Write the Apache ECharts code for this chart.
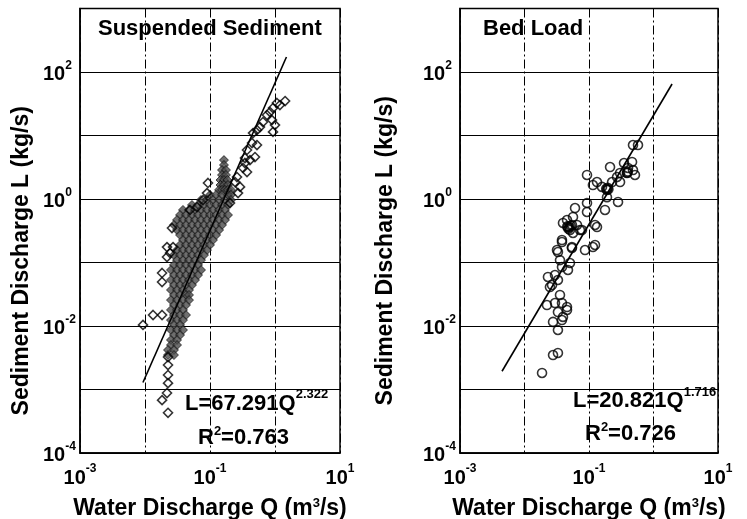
<!DOCTYPE html>
<html>
<head>
<meta charset="utf-8">
<script src="https://cdn.jsdelivr.net/npm/echarts@6/dist/echarts.min.js"></script>
<style>
html, body { margin: 0; padding: 0; background: #fff; }
#main { width: 747px; height: 519px; }
</style>
</head>
<body>
<div id="main"></div>
<script>
var FONT = '"Liberation Sans", Arial, sans-serif';

// tick labels (powers of ten that get a label)
var xTickExps = [-3, -1, 1];
var yTickExps = [-4, -2, 0, 2];

// Suspended sediment: scattered open diamonds [Q, L]
var suspendedPoints = [
  [1.43, 34.9], [1.19, 30.2], [1.07, 32.5], [0.931, 27.1], [0.838, 23.4], [0.753, 21.0],
  [1.0, 14.6], [0.899, 17.5], [0.653, 16.3], [0.587, 13.6], [0.931, 11.4], [0.528, 12.2],
  [0.459, 10.9], [0.443, 7.62], [0.528, 7.08], [0.371, 5.92], [0.492, 4.58], [0.345, 4.42],
  [0.412, 4.1], [0.345, 3.69], [0.371, 2.66], [0.322, 3.08], [0.260, 2.22], [0.290, 1.55],
  [0.243, 1.85], [0.270, 1.24], [0.203, 0.865],
  [0.0931, 1.79], [0.0899, 1.24], [0.0780, 0.964], [0.0631, 0.748], [0.0492, 0.672],
  [0.0260, 0.349], [0.0218, 0.175], [0.0270, 0.175], [0.0243, 0.141], [0.0218, 0.122],
  [0.0183, 0.0684], [0.0183, 0.0493], [0.0133, 0.0149], [0.0183, 0.0149], [0.00931, 0.0104],
  [0.0226, 0.00325], [0.0226, 0.00243], [0.0226, 0.00169], [0.0226, 0.00126],
  [0.0218, 0.00088], [0.0183, 0.00068], [0.0226, 0.00043]
];

// Suspended sediment: dense cloud, one L level per row with the Q values read along it
var cloudL = [
  4.10, 3.43, 2.86, 2.39, 1.99, 1.66, 1.39, 1.16, 0.964, 0.805, 0.672, 0.560, 0.467, 0.390,
  0.325, 0.271, 0.226, 0.189, 0.157, 0.131, 0.109, 0.0914, 0.0762, 0.0635, 0.0530, 0.0442,
  0.0369, 0.0308, 0.0256, 0.0214, 0.0179, 0.0149, 0.0124, 0.0104, 0.00865, 0.00721,
  0.00602, 0.00502, 0.00419, 0.00349
];
var cloudQ = [
  [0.164],
  [0.164],
  [0.153, 0.176],
  [0.153, 0.176],
  [0.145, 0.164, 0.185],
  [0.145, 0.164, 0.189],
  [0.138, 0.153, 0.170, 0.189, 0.210],
  [0.100, 0.124, 0.153, 0.189, 0.210],
  [0.0727, 0.0899, 0.111, 0.138, 0.170, 0.210],
  [0.0528, 0.0654, 0.0808, 0.100, 0.124, 0.153, 0.189],
  [0.0384, 0.0475, 0.0588, 0.0727, 0.0899, 0.111, 0.138, 0.170],
  [0.0346, 0.0427, 0.0528, 0.0654, 0.0808, 0.100, 0.124, 0.153, 0.189],
  [0.0311, 0.0384, 0.0475, 0.0588, 0.0727, 0.0899, 0.111, 0.138, 0.170],
  [0.0279, 0.0346, 0.0427, 0.0528, 0.0654, 0.0808, 0.100, 0.124, 0.153],
  [0.0311, 0.0384, 0.0475, 0.0588, 0.0727, 0.0899, 0.111, 0.138],
  [0.0346, 0.0427, 0.0528, 0.0654, 0.0808, 0.100, 0.124],
  [0.0384, 0.0475, 0.0588, 0.0727, 0.0899, 0.111],
  [0.0346, 0.0427, 0.0528, 0.0654, 0.0808, 0.100],
  [0.0311, 0.0384, 0.0475, 0.0588, 0.0727, 0.0899],
  [0.0279, 0.0346, 0.0427, 0.0528, 0.0654, 0.0808],
  [0.0311, 0.0384, 0.0475, 0.0588, 0.0727],
  [0.0279, 0.0346, 0.0427, 0.0528, 0.0654],
  [0.0251, 0.0311, 0.0384, 0.0475, 0.0588, 0.0727],
  [0.0279, 0.0346, 0.0427, 0.0528, 0.0654],
  [0.0251, 0.0311, 0.0384, 0.0475, 0.0588],
  [0.0279, 0.0346, 0.0427, 0.0528],
  [0.0251, 0.0311, 0.0384, 0.0475],
  [0.0279, 0.0346, 0.0427, 0.0475],
  [0.0251, 0.0311, 0.0384, 0.0475],
  [0.0279, 0.0346, 0.0427],
  [0.0251, 0.0311, 0.0384],
  [0.0279, 0.0346, 0.0427],
  [0.0251, 0.0311, 0.0384],
  [0.0279, 0.0346],
  [0.0251, 0.0311, 0.0384],
  [0.0279, 0.0346],
  [0.0251, 0.0311],
  [0.0251, 0.0311],
  [0.0226, 0.0279],
  [0.0226, 0.0279]
];

// fitted line L=67.291Q^2.322, ends as drawn
var suspendedFit = [[0.0093, 0.00129], [1.5, 172]];

// Bed load: open circles [Q, L]
var bedPoints = [
  [0.575, 7.08], [0.481, 7.08], [0.465, 3.83], [0.349, 3.69], [0.481, 2.86], [0.388, 2.57],
  [0.516, 2.39], [0.303, 2.57], [0.403, 3.08], [0.212, 3.19], [0.272, 2.22], [0.303, 1.85],
  [0.228, 1.85], [0.0931, 2.39], [0.133, 1.85], [0.115, 1.66], [0.159, 1.55], [0.190, 1.39],
  [0.190, 1.07], [0.282, 0.897], [0.0931, 0.865], [0.0607, 0.721], [0.0931, 0.624],
  [0.177, 0.672], [0.133, 0.362], [0.0456, 0.467], [0.0544, 0.390], [0.0507, 0.325],
  [0.0724, 0.325], [0.115, 0.175], [0.0381, 0.226], [0.0544, 0.169], [0.0319, 0.157],
  [0.0565, 0.521], [0.0395, 0.419], [0.0472, 0.362], [0.0652, 0.390], [0.0778, 0.325],
  [0.124, 0.390], [0.124, 0.189], [0.0867, 0.157], [0.0565, 0.292], [0.0381, 0.210],
  [0.0544, 0.175], [0.0330, 0.146], [0.0355, 0.109], [0.0507, 0.0982], [0.0381, 0.0849],
  [0.0472, 0.0762], [0.0231, 0.0592], [0.0297, 0.0635], [0.0330, 0.0530], [0.0267, 0.0442],
  [0.0248, 0.0411], [0.0355, 0.0308], [0.0381, 0.0230], [0.0223, 0.0214], [0.0297, 0.0230],
  [0.0456, 0.0199], [0.0456, 0.0179], [0.0330, 0.0166], [0.0395, 0.0139], [0.0277, 0.0116],
  [0.0381, 0.0124], [0.0330, 0.00865], [0.0277, 0.00349], [0.0330, 0.00376], [0.0187, 0.00182],
  [0.185, 1.45], [0.195, 1.50], [0.200, 1.42], [0.046, 0.37], [0.050, 0.36], [0.048, 0.34],
  [0.052, 0.38], [0.39, 2.6], [0.40, 2.7]
];

// fitted line L=20.821Q^1.716, ends as drawn
var bedFit = [[0.00448, 0.00194], [1.94, 64.7]];

var cloudPoints = [];
cloudL.forEach(function (l, i) {
  cloudQ[i].forEach(function (q) { cloudPoints.push([q, l]); });
});

function powLabel(exps) {
  return function (v) {
    var e = Math.round(Math.log10(v));
    if (exps.indexOf(e) < 0) return '';
    return '{b|10}{s|' + e + '}';
  };
}

var tickRich = {
  b: { fontSize: 20, fontWeight: 'bold', fontFamily: FONT, color: '#000', lineHeight: 25, verticalAlign: 'bottom' },
  s: { fontSize: 12, fontWeight: 'bold', fontFamily: FONT, color: '#000', lineHeight: 13, verticalAlign: 'top' }
};
var nameStyle = {
  fontSize: 23, fontWeight: 'bold', fontFamily: FONT, color: '#000',
  rich: { s: { fontSize: 13, fontWeight: 'bold', fontFamily: FONT, color: '#000', verticalAlign: 'top' } }
};

function xAxisFor(i) {
  return {
    gridIndex: i, type: 'log', logBase: 10, min: 0.001, max: 10,
    axisLine: { show: true, lineStyle: { color: '#000', width: 1.5 } },
    axisTick: { show: false },
    splitLine: { show: true, lineStyle: { color: '#000', width: 1, type: [9, 3, 2, 3] } },
    axisLabel: { formatter: powLabel(xTickExps), rich: tickRich, margin: 10, showMinLabel: true, showMaxLabel: true },
    name: 'Water Discharge Q (m{s|3}/s)', nameLocation: 'middle', nameGap: 44,
    nameTextStyle: nameStyle
  };
}
function yAxisFor(i, gap, shift) {
  return {
    gridIndex: i, type: 'log', logBase: 10, min: 0.0001, max: 1000,
    axisLine: { show: true, lineStyle: { color: '#000', width: 1.5 } },
    axisTick: { show: false },
    splitLine: { show: true, lineStyle: { color: '#000', width: 1 } },
    axisLabel: { formatter: powLabel(yTickExps), rich: tickRich, align: 'left', margin: 37, showMinLabel: true },
    name: 'Sediment Discharge L (kg/s)', nameLocation: 'middle', nameGap: gap,
    nameTextStyle: Object.assign({ padding: [0, shift, 0, 0] }, nameStyle)
  };
}

function eqRich(lh) {
  return {
    m: { fontSize: 22, fontWeight: 'bold', fontFamily: FONT, fill: '#000', lineHeight: lh, verticalAlign: 'bottom' },
    s: { fontSize: 13, fontWeight: 'bold', fontFamily: FONT, fill: '#000', lineHeight: 14, verticalAlign: 'top' }
  };
}
function label(x, y, text, lh) {
  return { type: 'text', left: x, top: y, z: 100,
    style: { text: text, rich: eqRich(lh || 22), fill: '#000', font: 'bold 22px ' + FONT } };
}

var chart = echarts.init(document.getElementById('main'), null, { renderer: 'canvas' });
chart.setOption({
  animation: false,
  backgroundColor: '#fff',
  grid: [
    { left: 80, top: 8.5, width: 260, height: 444.5, show: true, borderColor: '#000', borderWidth: 1.5,
      containLabel: false, outerBoundsMode: 'none' },
    { left: 460, top: 8.5, width: 258, height: 444.5, show: true, borderColor: '#000', borderWidth: 1.5,
      containLabel: false, outerBoundsMode: 'none' }
  ],
  xAxis: [xAxisFor(0), xAxisFor(1)],
  yAxis: [yAxisFor(0, 47, 60), yAxisFor(1, 63, 40)],
  series: [
    { type: 'scatter', xAxisIndex: 0, yAxisIndex: 0, symbol: 'diamond', symbolSize: 9, data: cloudPoints,
      itemStyle: { color: '#4a4a4a', borderColor: '#000', borderWidth: 0.8 } },
    { type: 'scatter', xAxisIndex: 0, yAxisIndex: 0, symbol: 'diamond', symbolSize: 9, data: suspendedPoints,
      itemStyle: { color: 'rgba(0,0,0,0)', borderColor: '#000', borderWidth: 1.6 } },
    { type: 'line', xAxisIndex: 0, yAxisIndex: 0, data: suspendedFit, showSymbol: false,
      lineStyle: { color: '#000', width: 1.6 } },
    { type: 'scatter', xAxisIndex: 1, yAxisIndex: 1, symbol: 'circle', symbolSize: 9, data: bedPoints,
      itemStyle: { color: 'rgba(0,0,0,0)', borderColor: '#000', borderWidth: 1.6 } },
    { type: 'line', xAxisIndex: 1, yAxisIndex: 1, data: bedFit, showSymbol: false,
      lineStyle: { color: '#000', width: 1.6 } }
  ],
  graphic: [
    label(98, 18, '{m|Suspended Sediment}'),
    label(483, 18, '{m|Bed Load}'),
    label(185, 388, '{m|L=67.291Q}{s|2.322}', 27),
    label(198, 425, '{m|R}{s|2}{m|=0.763}', 24),
    label(573, 386, '{m|L=20.821Q}{s|1.716}', 26),
    label(585, 421, '{m|R}{s|2}{m|=0.726}', 24)
  ]
});
</script>
</body>
</html>
